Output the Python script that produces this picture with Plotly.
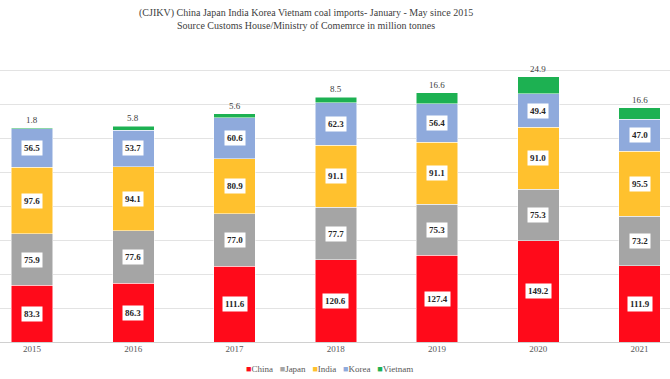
import plotly.graph_objects as go

years = ["2015", "2016", "2017", "2018", "2019", "2020", "2021"]
china = [83.3, 86.3, 111.6, 120.6, 127.4, 149.2, 111.9]
japan = [75.9, 77.6, 77.0, 77.7, 75.3, 75.3, 73.2]
india = [97.6, 94.1, 80.9, 91.1, 91.1, 91.0, 95.5]
korea = [56.5, 53.7, 60.6, 62.3, 56.4, 49.4, 47.0]
vietnam = [1.8, 5.8, 5.6, 8.5, 16.6, 24.9, 16.6]

series = [
    ("China", china, "#FF0A1A"),
    ("Japan", japan, "#A5A5A5"),
    ("India", india, "#FFC12E"),
    ("Korea", korea, "#8FAADC"),
    ("Vietnam", vietnam, "#1DB152"),
]

SERIF = "Liberation Serif, Times New Roman, serif"

fig = go.Figure()
for name, vals, col in series:
    fig.add_trace(go.Bar(
        x=years, y=vals, name=name,
        marker=dict(color=col, line=dict(color="white", width=0.5)),
        width=0.41,
        hoverinfo="x+y+name",
    ))

annotations = []
base = [0.0] * len(years)
for name, vals, col in series:
    for i, v in enumerate(vals):
        if name == "Vietnam":
            annotations.append(dict(
                x=i, y=base[i] + v, xref="x", yref="y",
                text=f"{v:.1f}", showarrow=False, yanchor="bottom", yshift=1,
                font=dict(family=SERIF, size=9, color="#404040"),
            ))
        else:
            annotations.append(dict(
                x=i, y=base[i] + v / 2, xref="x", yref="y",
                text=f"<b>{v:.1f}</b>", showarrow=False,
                bgcolor="white", borderpad=2,
                font=dict(family=SERIF, size=9, color="#262626"),
            ))
        base[i] += v

PLOT_H = 306
annotations.append(dict(
    x=306 / 670, y=1.0 + (36 - 19) / PLOT_H, xref="paper", yref="paper",
    xanchor="center", yanchor="middle", showarrow=False,
    text="(CJIKV) China Japan India Korea Vietnam coal imports- January - May since 2015<br>Source Customs House/Ministry of Comemrce in million tonnes",
    font=dict(family=SERIF, size=10, color="#404040"),
))

legend_text = "   ".join(
    f"<span style='color:{col}'>■</span>{name}" for name, vals, col in series
)
annotations.append(dict(
    x=329 / 670, y=-(369 - 342) / PLOT_H, xref="paper", yref="paper",
    xanchor="center", yanchor="middle", showarrow=False, text=legend_text,
    font=dict(family=SERIF, size=9, color="#595959"),
))

fig.update_layout(
    width=670, height=379,
    margin=dict(l=0, r=0, t=36, b=37, autoexpand=False),
    paper_bgcolor="white", plot_bgcolor="white",
    barmode="stack",
    showlegend=False,
    xaxis=dict(
        type="category", range=[-0.316, 6.30], automargin=False,
        showgrid=False, ticks="", showline=False,
        tickfont=dict(family=SERIF, size=9, color="#595959"),
    ),
    yaxis=dict(
        range=[0, 450], dtick=50, showticklabels=False, automargin=False,
        showgrid=True, gridcolor="#E3E3E3", gridwidth=1,
        zeroline=True, zerolinecolor="#D0D0D0", zerolinewidth=1,
    ),
    annotations=annotations,
)

fig.write_html(
    "out.html",
    config={"displayModeBar": False},
    post_script="document.body.style.margin='0';document.body.style.overflow='hidden';",
)
